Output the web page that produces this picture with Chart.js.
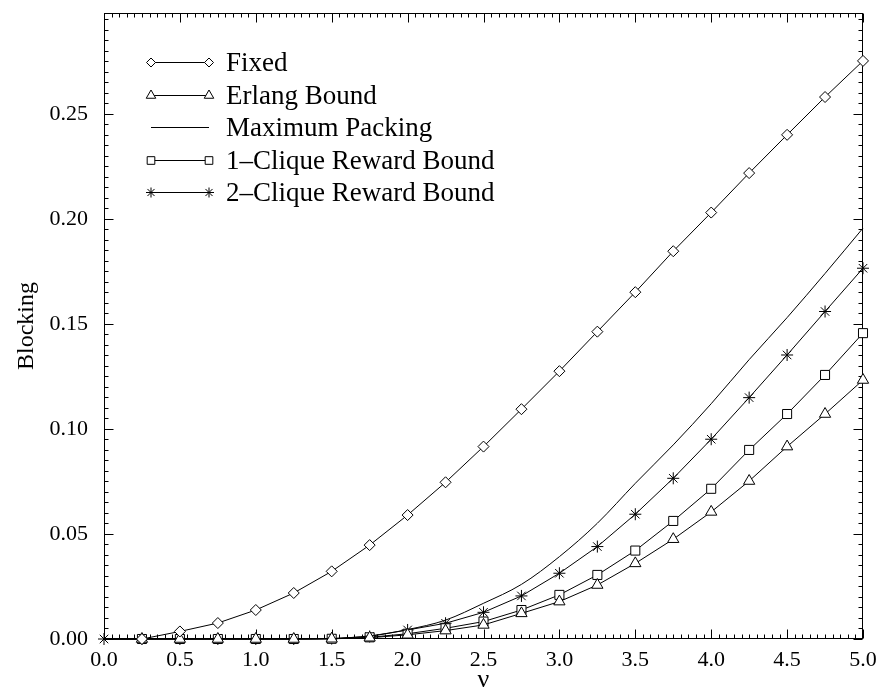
<!DOCTYPE html>
<html>
<head>
<meta charset="utf-8">
<script src="https://cdn.jsdelivr.net/npm/chart.js@4/dist/chart.umd.min.js"></script>
<style>
    html, body { margin: 0; padding: 0; background: #fff; }
</style>
</head>
<body>
<canvas id="chart" width="880" height="696"></canvas>
<script>
// Offered load values (x axis)
const nu = [0, 0.25, 0.5, 0.75, 1.0, 1.25, 1.5, 1.75, 2.0, 2.25, 2.5,
            2.75, 3.0, 3.25, 3.5, 3.75, 4.0, 4.25, 4.5, 4.75, 5.0];

// Blocking probabilities
const fixedBlocking = [0, 0, 0.0036, 0.0076, 0.0138, 0.0219, 0.0322, 0.0447, 0.0590, 0.0746, 0.0916,
                       0.1094, 0.1275, 0.1463, 0.1651, 0.1846, 0.2030, 0.2218, 0.2400, 0.2580, 0.2752];
const erlangBound = [0, 0, 0, 0, 0, 0, 0.0001, 0.0006, 0.0020, 0.0040, 0.0067,
                     0.0122, 0.0178, 0.0257, 0.0360, 0.0475, 0.0605, 0.0752, 0.0916, 0.1071, 0.1233];
const maxPacking = [0, 0, 0, 0, 0, 0, 0.0002, 0.0015, 0.0045, 0.0090, 0.0170,
                    0.0260, 0.0392, 0.0551, 0.0741, 0.0924, 0.1120, 0.1330, 0.1530, 0.1740, 0.1956];
const oneClique = [0, 0, 0, 0, 0, 0, 0.0001, 0.0008, 0.0025, 0.0051, 0.0083,
                   0.0138, 0.0210, 0.0305, 0.0421, 0.0562, 0.0715, 0.0900, 0.1071, 0.1257, 0.1456];
const twoClique = [0, 0, 0, 0, 0, 0, 0.0002, 0.0012, 0.0043, 0.0075, 0.0127,
                   0.0205, 0.0313, 0.0440, 0.0594, 0.0765, 0.0951, 0.1149, 0.1352, 0.1559, 0.1765];

// Axis ticks
const xTicks = [0, 0.5, 1.0, 1.5, 2.0, 2.5, 3.0, 3.5, 4.0, 4.5, 5.0];
const yTicks = [0, 0.05, 0.10, 0.15, 0.20, 0.25];

const serif = "'Liberation Serif', 'Times New Roman', serif";

document.addEventListener('DOMContentLoaded', function () {
    const toPoints = values => values.map((v, i) => ({ x: nu[i], y: v }));

    // hide the marker at the origin except for the asterisk series
    const skipFirst = r => ctx => ctx.dataIndex === 0 ? 0 : r;

    const datasets = [
        { label: 'Fixed', data: toPoints(fixedBlocking), pointStyle: 'rectRot', pointRadius: skipFirst(5.5) },
        { label: 'Erlang Bound', data: toPoints(erlangBound), pointStyle: 'triangle', pointRadius: skipFirst(6.5) },
        { label: 'Maximum Packing', data: toPoints(maxPacking), pointStyle: false, pointRadius: 0, cubicInterpolationMode: 'monotone' },
        { label: '1\u2013Clique Reward Bound', data: toPoints(oneClique), pointStyle: 'rect', pointRadius: skipFirst(6.4) },
        { label: '2\u2013Clique Reward Bound', data: toPoints(twoClique), pointStyle: 'star', pointRadius: 6 }
    ].map(ds => Object.assign({
        borderColor: '#000',
        backgroundColor: '#fff',
        pointBorderColor: '#000',
        pointBackgroundColor: '#fff',
        borderWidth: 1,
        pointBorderWidth: 1,
        tension: 0,
        clip: false
    }, ds));

    // Frame with inward major/minor ticks on all four sides
    const frameTicks = {
        id: 'frameTicks',
        beforeDatasetsDraw(chart) {
            const { ctx, chartArea: a, scales: { x, y } } = chart;
            const L = Math.round(a.left) + 0.5, R = Math.round(a.right) - 0.5;
            const T = Math.round(a.top) + 0.5, B = Math.round(a.bottom) - 0.5;
            ctx.save();
            ctx.strokeStyle = '#000';
            ctx.lineWidth = 1;
            ctx.strokeRect(L, T, R - L, B - T);
            ctx.beginPath();
            for (let i = 0; i <= 100; i++) {
                const px = Math.round(x.getPixelForValue(i * 0.05)) + 0.5;
                const len = i % 10 === 0 ? 9 : 4;
                ctx.moveTo(px, B); ctx.lineTo(px, B - len);
                ctx.moveTo(px, T); ctx.lineTo(px, T + len);
            }
            for (let i = 0; i * 0.005 <= y.max + 1e-9; i++) {
                const py = Math.round(y.getPixelForValue(i * 0.005)) + 0.5;
                const len = i % 10 === 0 ? 9 : 4;
                ctx.moveTo(L, py); ctx.lineTo(L + len, py);
                ctx.moveTo(R, py); ctx.lineTo(R - len, py);
            }
            ctx.stroke();
            ctx.restore();
        }
    };

    // Legend drawn as marker-line-marker rows in the upper left corner
    const sampleLegend = {
        id: 'sampleLegend',
        afterDraw(chart) {
            const ctx = chart.ctx;
            const x0 = 151, x1 = 209, textX = 226, top = 62, step = 32.5;
            ctx.save();
            ctx.font = '27px ' + serif;
            ctx.textBaseline = 'middle';
            ctx.fillStyle = '#000';
            chart.data.datasets.forEach((ds, i) => {
                const yy = Math.round(top + i * step) + 0.5;
                ctx.strokeStyle = '#000';
                ctx.lineWidth = 1;
                ctx.beginPath();
                ctx.moveTo(x0, yy);
                ctx.lineTo(x1, yy);
                ctx.stroke();
                if (ds.pointStyle) {
                    const r = typeof ds.pointRadius === 'function' ? ds.pointRadius({ dataIndex: 1 }) : ds.pointRadius;
                    ctx.fillStyle = '#fff';
                    [x0, x1].forEach(px => {
                        Chart.helpers.drawPoint(ctx, { pointStyle: ds.pointStyle, radius: r - 1, rotation: 0, borderWidth: 1 }, px, yy);
                    });
                    ctx.fillStyle = '#000';
                }
                ctx.fillText(ds.label, textX, yy + 1);
            });
            ctx.restore();
        }
    };

    new Chart(document.getElementById('chart'), {
        type: 'line',
        data: { datasets: datasets },
        options: {
            responsive: false,
            animation: false,
            devicePixelRatio: 1,
            layout: { padding: { top: 13, right: 17, left: 0, bottom: 0 } },
            plugins: {
                legend: { display: false },
                tooltip: { enabled: false }
            },
            scales: {
                x: {
                    type: 'linear',
                    min: 0,
                    max: 5,
                    afterBuildTicks: s => { s.ticks = xTicks.map(v => ({ value: v })); },
                    afterFit: s => { s.height = 57; s.paddingLeft = 0; s.paddingRight = 0; },
                    grid: { display: false, drawTicks: false },
                    border: { display: false },
                    ticks: {
                        color: '#000',
                        padding: 8,
                        maxRotation: 0,
                        autoSkip: false,
                        font: { family: serif, size: 22 },
                        callback: v => Number(v).toFixed(1)
                    },
                    title: {
                        display: true,
                        text: '\u03bd',
                        color: '#000',
                        padding: 0,
                        font: { family: serif, size: 26 }
                    }
                },
                y: {
                    min: 0,
                    max: 0.298,
                    afterBuildTicks: s => { s.ticks = yTicks.map(v => ({ value: v })); },
                    afterFit: s => { s.width = 104; s.paddingTop = 0; s.paddingBottom = 0; },
                    grid: { display: false, drawTicks: false },
                    border: { display: false },
                    ticks: {
                        color: '#000',
                        padding: 16,
                        font: { family: serif, size: 22 },
                        callback: v => Number(v).toFixed(2)
                    },
                    title: {
                        display: true,
                        text: 'Blocking',
                        color: '#000',
                        padding: { top: 12, bottom: 0 },
                        font: { family: serif, size: 24 }
                    }
                }
            }
        },
        plugins: [frameTicks, sampleLegend]
    });
});
</script>
</body>
</html>
